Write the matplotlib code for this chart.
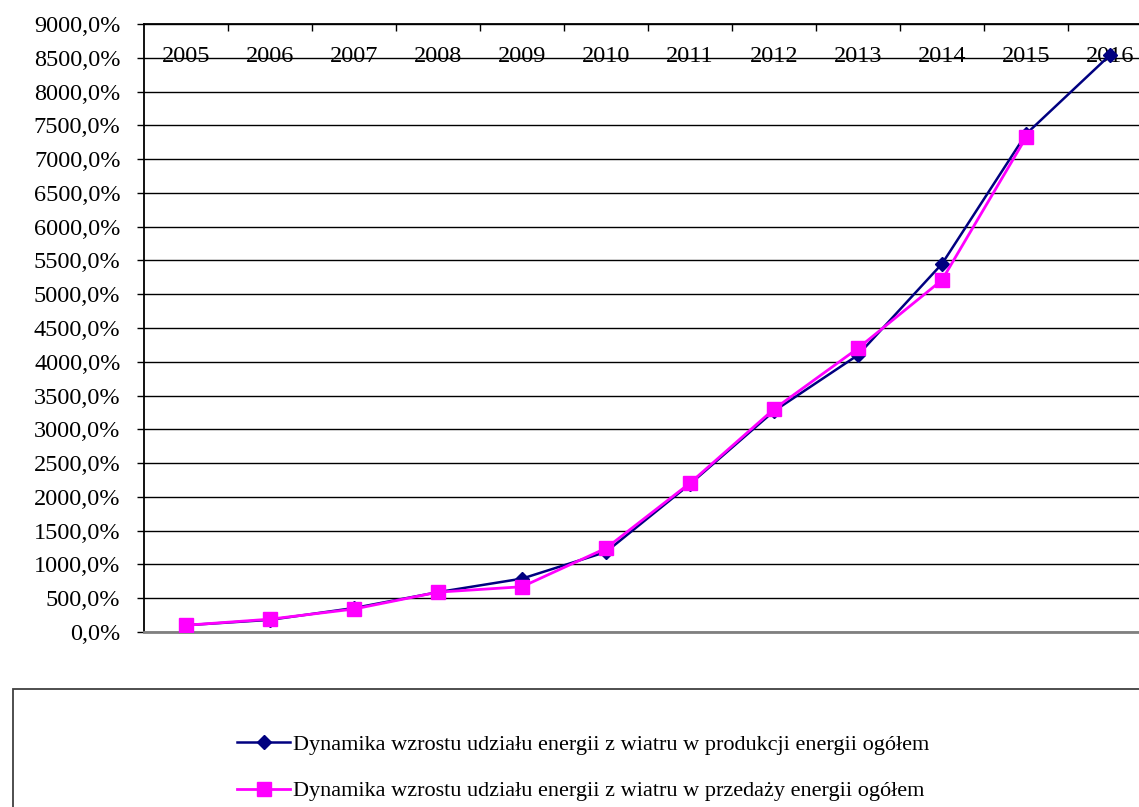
import matplotlib
matplotlib.use("Agg")
import matplotlib.pyplot as plt
from matplotlib.ticker import FuncFormatter, MultipleLocator
from matplotlib.patches import Rectangle

# dane
years = ["2005", "2006", "2007", "2008", "2009", "2010",
         "2011", "2012", "2013", "2014", "2015", "2016"]
produkcja = [100, 180, 355, 590, 790, 1185, 2190, 3270, 4100, 5450, 7370, 8540]
sprzedaz = [100, 190, 340, 590, 670, 1240, 2205, 3300, 4200, 5210, 7320]

label_prod = "Dynamika wzrostu udziału energii z wiatru w produkcji energii ogółem"
label_sprz = "Dynamika wzrostu udziału energii z wiatru w przedaży energii ogółem"

plt.rcParams['font.family'] = ['Liberation Serif', 'DejaVu Serif']

fig = plt.figure(figsize=(11.39, 8.07), dpi=100)
ax = fig.add_axes([144 / 1139, 1 - 632 / 807, 1008 / 1139, 608 / 807])

x = list(range(len(years)))
ax.plot(x, produkcja, color="#000080", lw=1.8, marker="D", markersize=7,
        label=label_prod, zorder=3)
ax.plot(x[:len(sprzedaz)], sprzedaz, color="#FF00FF", lw=2.0, marker="s",
        markersize=10, label=label_sprz, zorder=4)

ax.set_xlim(-0.5, len(years) - 0.5)
ax.set_ylim(0, 9000)

# os y
ax.yaxis.set_major_locator(MultipleLocator(500))
ax.yaxis.set_major_formatter(FuncFormatter(lambda v, p: f"{v:.1f}%".replace(".", ",")))
ax.tick_params(axis="y", direction="out", length=5, width=1, labelsize=17.5, pad=12)
ax.grid(axis="y", color="black", lw=1)
ax.set_axisbelow(True)

# os x u gory, etykiety wewnatrz wykresu
ax.xaxis.tick_top()
ax.set_xticks([i + 0.5 for i in range(len(years) - 1)])
ax.set_xticklabels([])
ax.set_xticks(x, minor=True)
ax.set_xticklabels(years, minor=True)
ax.tick_params(axis="x", which="major", direction="in", length=5, width=1)
ax.tick_params(axis="x", which="minor", length=0, labelsize=17.5, pad=-31)

for s in ["left", "top"]:
    ax.spines[s].set_color("black")
    ax.spines[s].set_linewidth(1.3)
ax.spines["right"].set_visible(False)
ax.spines["bottom"].set_color("#808080")
ax.spines["bottom"].set_linewidth(2)

# ramka legendy
fig.patches.append(Rectangle((13 / 1139, -0.1), 1.2, 1 - 689 / 807 + 0.1,
                             transform=fig.transFigure, fill=False,
                             edgecolor="#404040", lw=1.3))
fig.legend(loc="center", bbox_to_anchor=(583 / 1139, 1 - 768 / 807),
           frameon=False, fontsize=16, handlelength=2.4, handletextpad=0.1,
           labelspacing=1.15)

fig.savefig("out.png", dpi=100)
